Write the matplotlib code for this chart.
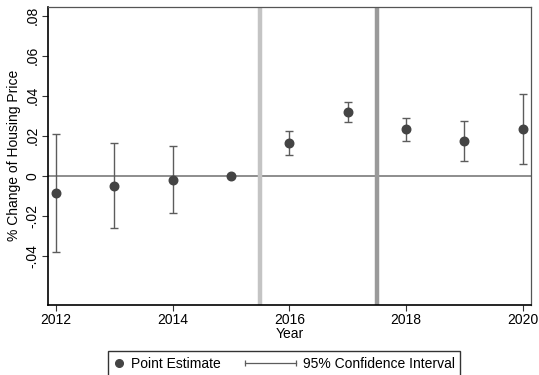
import matplotlib
matplotlib.use("Agg")
import matplotlib.pyplot as plt
from matplotlib.lines import Line2D
from matplotlib.legend_handler import HandlerLine2D, HandlerBase

plt.rcParams['font.family'] = ['Liberation Sans', 'DejaVu Sans']

years = [2012, 2013, 2014, 2015, 2016, 2017, 2018, 2019, 2020]
estimate = [-0.0087, -0.005, -0.002, 0.0, 0.0163, 0.032, 0.0232, 0.0175, 0.0235]
ci_upper = [0.021, 0.0165, 0.0147, 0.0, 0.0222, 0.037, 0.029, 0.0275, 0.041]
ci_lower = [-0.038, -0.026, -0.0187, 0.0, 0.0105, 0.027, 0.0173, 0.0075, 0.0058]
yticks = [-0.04, -0.02, 0, 0.02, 0.04, 0.06, 0.08]
yticklabels = ['-.04', '-.02', '0', '.02', '.04', '.06', '.08']
xticks = [2012, 2014, 2016, 2018, 2020]
vlines = [2015.5, 2017.5]


class HandlerCI(HandlerBase):
    def create_artists(self, legend, orig_handle, xdescent, ydescent,
                       width, height, fontsize, trans):
        y = height / 2 - ydescent
        x1 = width - xdescent
        x0 = x1 - 36.5
        ln = Line2D([x0, x1], [y, y], color=orig_handle.get_color(),
                    lw=orig_handle.get_linewidth(), marker='|',
                    markersize=5, markeredgewidth=0.9)
        ln.set_transform(trans)
        return [ln]


fig = plt.figure(figsize=(5.39, 3.75), dpi=100)
ax = fig.add_axes([0.089, 0.187, 0.896, 0.795])

ax.axhline(0, color='#7a7a7a', lw=1.2, zorder=1)
ax.axvline(vlines[0], color='#c4c4c4', lw=3.2, zorder=1)
ax.axvline(vlines[1], color='#9a9a9a', lw=3.2, zorder=1)

ax.errorbar(years, estimate,
            yerr=[[e - lo for e, lo in zip(estimate, ci_lower)],
                  [hi - e for e, hi in zip(estimate, ci_upper)]],
            fmt='none', ecolor='#5c5c5c', elinewidth=1.0, capsize=3,
            capthick=1.0, zorder=2)
ax.scatter(years, estimate, s=38, color='#444444', zorder=3)

ax.set_xlim(2011.86, 2020.14)
ax.set_ylim(-0.0645, 0.0845)
ax.set_xticks(xticks)
ax.set_xticklabels([str(t) for t in xticks], fontsize=10)
ax.set_yticks(yticks)
ax.set_yticklabels(yticklabels, rotation=90, va='center', fontsize=10)
ax.tick_params(axis='both', direction='out', length=4, width=0.8,
               color='#333333', pad=2)
ax.set_xlabel('Year', fontsize=10, labelpad=0)
ax.set_ylabel('% Change of Housing Price', fontsize=10, labelpad=3)

for side in ['left', 'bottom']:
    ax.spines[side].set_color('black')
    ax.spines[side].set_linewidth(1.2)
for side in ['top', 'right']:
    ax.spines[side].set_color('#555555')
    ax.spines[side].set_linewidth(0.9)

pt = Line2D([], [], ls='none', marker='o', color='#444444', markersize=5.5)
ci = Line2D([], [], ls='-', color='#5c5c5c', lw=0.9)
leg = fig.legend([pt, ci], ['Point Estimate', '95% Confidence Interval'],
                 handler_map={pt: HandlerLine2D(numpoints=1), ci: HandlerCI()},
                 loc='upper center', bbox_to_anchor=(0.527, 0.063), ncol=2,
                 frameon=True, fancybox=False, fontsize=10, handlelength=0.8,
                 columnspacing=4.6, handletextpad=0.5, borderpad=0.4,
                 borderaxespad=0)
leg.get_frame().set_edgecolor('black')
leg.get_frame().set_linewidth(1.0)

fig.savefig('out.png', dpi=100)
